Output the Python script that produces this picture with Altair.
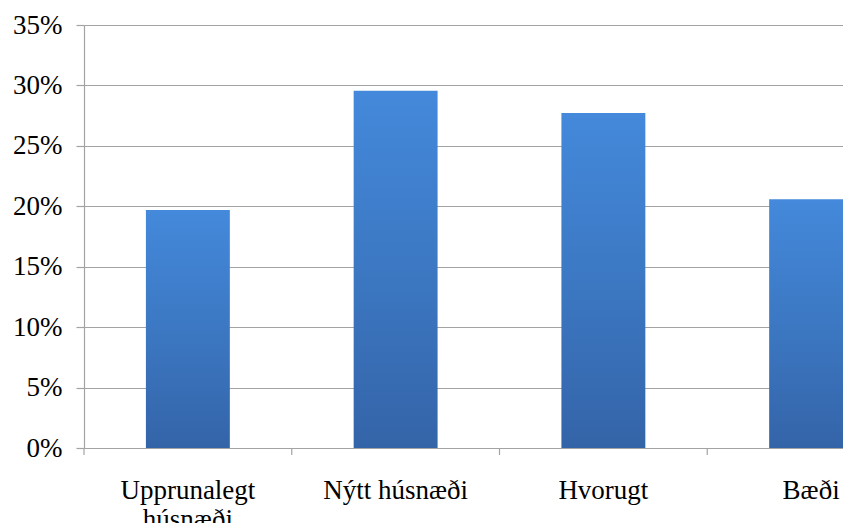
import altair as alt
import pandas as pd

categories = ["Upprunalegt húsnæði", "Nýtt húsnæði", "Hvorugt", "Bæði"]
shares = [0.197, 0.2955, 0.2772, 0.2058]
y_ticks = [0, 0.05, 0.10, 0.15, 0.20, 0.25, 0.30, 0.35]

df = pd.DataFrame({"cat": categories, "share": shares})

W, H = 759, 423
FONT = "Liberation Serif"
GRID = "#a3a3a3"

x_scale = alt.Scale(domain=categories, range=[0, 831], paddingInner=0, paddingOuter=0)
y_scale = alt.Scale(domain=[0, 0.35], nice=False)

x_axis = alt.Axis(title=None, ticks=False, domain=False, labelAngle=0,
                  labelFont=FONT, labelFontSize=27, labelColor="black",
                  labelPadding=29, labelLineHeight=29, labelLimit=400,
                  labelExpr="datum.label == 'Upprunalegt húsnæði' ? ['Upprunalegt', 'húsnæði'] : datum.label")

grad = alt.Gradient(
    gradient="linear",
    stops=[alt.GradientStop(color="#4489DB", offset=0),
           alt.GradientStop(color="#3B76C0", offset=0.55),
           alt.GradientStop(color="#3464A8", offset=1)],
    x1=0, x2=0, y1=0, y2=1,
)

bars = alt.Chart(df).mark_bar(
    width=alt.RelativeBandSize(0.404), clip=True, color=grad
).encode(
    x=alt.X("cat:N", scale=x_scale, sort=categories, axis=x_axis),
    y=alt.Y("share:Q", scale=y_scale,
            axis=alt.Axis(title=None, values=y_ticks, format=".0%", grid=True,
                          gridColor=GRID, gridWidth=1.2, domainColor=GRID, domainWidth=1.2,
                          tickColor=GRID, tickSize=8, tickWidth=1.2,
                          labelFont=FONT, labelFontSize=27, labelColor="black",
                          labelPadding=14)),
)

ticks = alt.Chart(df).mark_rule(color=GRID, strokeWidth=1.2).encode(
    x=alt.X("cat:N", scale=x_scale, sort=categories, bandPosition=0, axis=x_axis),
    y=alt.value(H), y2=alt.value(H + 7),
)

chart = alt.layer(bars, ticks).properties(
    width=W, height=H,
    autosize=alt.AutoSizeParams(type="none"),
    padding={"left": 76, "top": 17, "right": 0, "bottom": 75},
).configure_view(stroke=None)

chart.save("out.html", embed_options={"renderer": "svg", "actions": False})
